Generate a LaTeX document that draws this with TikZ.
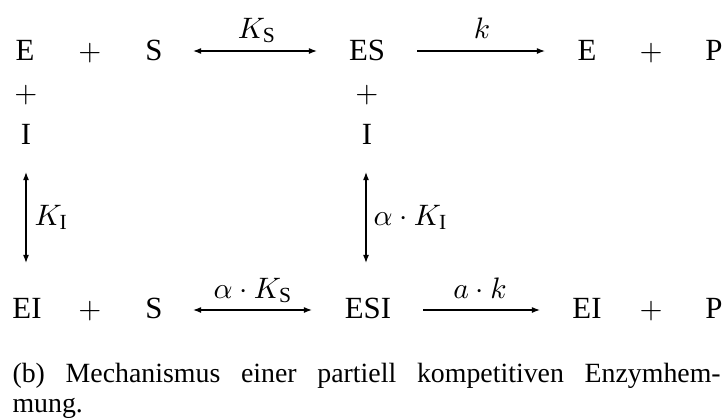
\documentclass[tikz,border=0pt]{standalone}
\IfFileExists{pplr8t.tfm}{\usepackage[T1]{fontenc}\renewcommand{\rmdefault}{ppl}}{\usepackage{fontspec}\setmainfont{Liberation Serif}}
\usetikzlibrary{arrows.meta}
\begin{document}
\begin{tikzpicture}[x=0.37pt,y=-0.37pt,
  sp/.style={anchor=base,inner sep=0pt,font=\fontsize{11.4}{13.6}\selectfont},
  tipa/.style={line width=0.4pt,{Latex[length=3pt,width=2.2pt]}-{Latex[length=3pt,width=2.2pt]}},
  tipf/.style={line width=0.4pt,-{Latex[length=3pt,width=2.2pt]}},
  capt/.style={anchor=base west,inner sep=0pt,font=\fontsize{10.3}{12}\selectfont}]
\useasboundingbox (0,0) rectangle (727,419);
% top row
\node[sp] (E1) at (25,60) {E};
\node[sp] (p1) at (90,60) {$+$};
\node[sp] (S1) at (154,60) {S};
\node[sp] (ES) at (367,60) {ES};
\node[sp] (E2) at (587,60) {E};
\node[sp] (p2) at (651,60) {$+$};
\node[sp] (P1) at (714,60) {P};
% second/third rows
\node[sp] (p3) at (26,102) {$+$};
\node[sp] (I1) at (26,144) {I};
\node[sp] (p4) at (367,102) {$+$};
\node[sp] (I2) at (367,144) {I};
% bottom row
\node[sp] (EI1) at (27,318) {EI};
\node[sp] (p5) at (90,318) {$+$};
\node[sp] (S2) at (154,318) {S};
\node[sp] (ESI) at (368,318) {ESI};
\node[sp] (EI2) at (587,318) {EI};
\node[sp] (p6) at (651,318) {$+$};
\node[sp] (P2) at (714,318) {P};
% arrow ends
\coordinate (a1s) at (193,51);
\coordinate (a1e) at (317,51);
\coordinate (a2s) at (417,51);
\coordinate (a2e) at (545,51);
\coordinate (a3s) at (193,310);
\coordinate (a3e) at (312,310);
\coordinate (a4s) at (423,310);
\coordinate (a4e) at (540,310);
\coordinate (v1s) at (26,172);
\coordinate (v1e) at (26,263);
\coordinate (v2s) at (366,172);
\coordinate (v2e) at (366,263);
\draw[tipa] (a1s) -- (a1e);
\draw[tipf] (a2s) -- (a2e);
\draw[tipa] (a3s) -- (a3e);
\draw[tipf] (a4s) -- (a4e);
\draw[tipa] (v1s) -- (v1e);
\draw[tipa] (v2s) -- (v2e);
% labels
\node[sp] (lKS) at (257,38) {$K_\mathrm{S}$};
\node[sp] (lk) at (482,38) {$k$};
\node[sp] (laKS) at (253,298) {$\alpha\cdot K_\mathrm{S}$};
\node[sp] (lak) at (480,298) {$a\cdot k$};
\node[sp,anchor=west] (lKI) at (34,217.5) {$K_\mathrm{I}$};
\node[sp,anchor=west] (laKI) at (373,217.5) {$\alpha\cdot K_\mathrm{I}$};
% caption
\node[capt] (cap1) at (12,382) {\makebox[262pt][s]{(b) Mechanismus einer partiell kompetitiven Enzymhem-}};
\node[capt] (cap2) at (12,412) {mung.};
\end{tikzpicture}
\end{document}
